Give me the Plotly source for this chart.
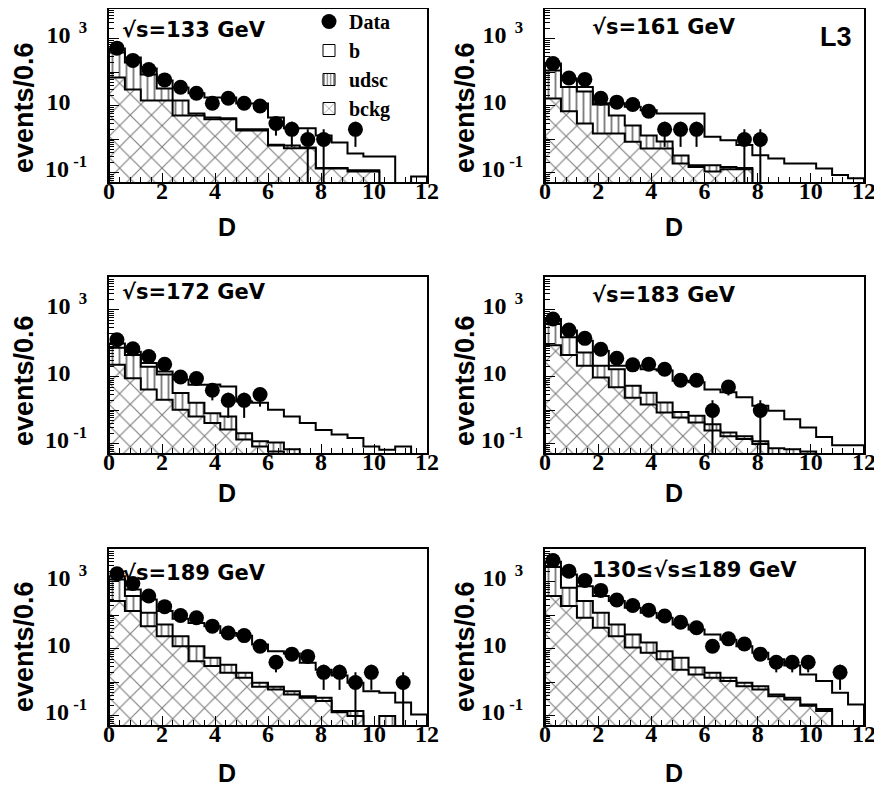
import plotly.graph_objects as go

# ---------------- data ----------------
BIN_WIDTH = 0.6
D_CENTERS = [0.3, 0.9, 1.5, 2.1, 2.7, 3.3, 3.9, 4.5, 5.1, 5.7,
             6.3, 6.9, 7.5, 8.1, 8.7, 9.3, 9.9, 10.5, 11.1, 11.7]
X_TICKS = [0, 2, 4, 6, 8, 10, 12]
Y_TICK_VALUES = [0.1, 1, 10, 100, 1000, 10000]
Y_TICK_LABELS = ["10<sup>\u00a0-1</sup>", "", "10<sup>\u00a0\u00a0\u00a0\u00a0</sup>", "",
                 "10<sup>\u00a0\u00a03</sup>", ""]
LEGEND_NAMES = ["Data", "b", "udsc", "bckg"]
PANEL_LABELS = ["\u221as=133 GeV", "\u221as=161 GeV", "\u221as=172 GeV",
                "\u221as=183 GeV", "\u221as=189 GeV", "130\u2264\u221as\u2264189 GeV"]

# sqrt(s) = 133 GeV
DATA_133 = [531, 229, 123, 60, 36, 24, 12, 17, 12, 10, 3, 2, 1, 1, None, 2, None, None, None, None]
ERR_133 = [23, 15, 11, 7.7, 6, 4.9, 3.5, 4.1, 3.5, 3.2, 1.7, 1.4, 1, 1, None, 1.4, None, None, None, None]
B_133 = [125, 81, 45, 25, 21, 18, 13.5, 13.7, 9.9, 9.9, 3.8, 1.5, 1.57, 1.18, 0.67, 0.26, 0.19, 0.31, 0, 0.078]
UDSC_133 = [324, 168, 72, 18.4, 9.4, 0.8, 0.5, 0.3, 0.14, 0.14, 0.04, 0.11, 0.03, 0.004, 0.004, 0.01, 0.01, 0, 0, 0]
BCKG_133 = [71, 31, 14.6, 14.6, 5.2, 5.2, 4.0, 4.0, 1.86, 1.86, 0.66, 0.55, 0.55, 0.136, 0.136, 0.11, 0.11, 0, 0, 0]

# sqrt(s) = 161 GeV
DATA_161 = [185, 68, 62, 17, 13, 11, 7, 2, 2, 2, None, None, 1, 1, None, None, None, None, None, None]
ERR_161 = [13.6, 8.2, 7.9, 4.1, 3.6, 3.3, 2.6, 1.4, 1.4, 1.4, None, None, 1, 1, None, None, None, None, None, None]
B_161 = [71, 29, 10, 1, 6.8, 6.9, 6.1, 5.1, 5.7, 5.8, 1.03, 0.8, 0.54, 0.34, 0.27, 0.19, 0.19, 0.136, 0.087, 0.07]
UDSC_161 = [98.4, 30.1, 24, 9.5, 3.7, 1.75, 0.78, 0.33, 0.14, 0.02, 0.06, 0.02, 0.01, 0, 0, 0, 0, 0, 0, 0]
BCKG_161 = [16.6, 6.9, 3.0, 1.5, 1.5, 0.85, 0.54, 0.54, 0.19, 0.15, 0.11, 0.13, 0.13, 0, 0, 0, 0, 0, 0, 0]

# sqrt(s) = 172 GeV
DATA_172 = [129, 69, 41, 24, 10, 9, 4, 2, 2, 3, None, None, None, None, None, None, None, None, None, None]
ERR_172 = [11.4, 8.3, 6.4, 4.9, 3.2, 3, 2, 1.4, 1.4, 1.7, None, None, None, None, None, None, None, None, None, None]
B_172 = [25, 12, 6, 2.7, 5.1, 4.2, 5.1, 4.5, 1.65, 1.58, 0.94, 0.59, 0.42, 0.26, 0.19, 0.15, 0.084, 0.067, 0.084, 0]
UDSC_172 = [52, 35.8, 15.8, 9.7, 2.25, 1.04, 0.4, 0.39, 0.074, 0.036, 0.05, 0.07, 0, 0, 0, 0, 0, 0, 0, 0]
BCKG_172 = [23, 9.2, 4.2, 2.1, 1.05, 0.66, 0.42, 0.27, 0.136, 0.084, 0.06, 0, 0, 0, 0, 0, 0, 0, 0, 0]

# sqrt(s) = 183 GeV
DATA_183 = [535, 250, 142, 67, 36, 23, 24, 17, 8, 8, 1, 5, None, 1, None, None, None, None, None, None]
ERR_183 = [23, 15.8, 11.9, 8.2, 6, 4.8, 4.9, 4.1, 2.8, 2.8, 1, 2.2, None, 1, None, None, None, None, None, None]
B_183 = [160, 93, 66, 38.5, 4.5, 16, 13.6, 13.8, 6.8, 6.2, 3.8, 3.3, 2.3, 1.26, 0.9, 0.48, 0.25, 0.16, 0.091, 0.091]
UDSC_183 = [291, 107, 32.5, 11.8, 12.1, 3.1, 1.9, 0.86, 0.28, 0.25, 0.14, 0.05, 0.03, 0.02, 0.075, 0.07, 0.06, 0, 0, 0]
BCKG_183 = [89, 45, 21.5, 9.7, 4.9, 2.4, 1.5, 0.87, 0.62, 0.44, 0.25, 0.17, 0.14, 0.1, 0, 0, 0, 0, 0, 0]

# sqrt(s) = 189 GeV
DATA_189 = [1760, 900, 380, 183, 100, 85, 48, 30, 25, 12, 4, 7, 6, 2, 2, 1, 2, None, 1, None]
ERR_189 = [42, 30, 19.5, 13.5, 10, 9.2, 6.9, 5.5, 5, 3.5, 2, 2.6, 2.4, 1.4, 1.4, 1, 1.4, None, 1, None]
B_189 = [310, 220, 180, 81, 56, 48, 42.5, 26.6, 23, 12.5, 7.8, 6.75, 3.5, 2.05, 1.46, 0.84, 0.55, 0.39, 0.25, 0.11]
UDSC_189 = [910, 245, 72, 30, 12, 7.7, 2.4, 1.45, 0.57, 0.24, 0.12, 0.11, 0.04, 0.07, 0.01, 0.04, 0, 0.1, 0, 0]
BCKG_189 = [270, 135, 48, 24, 12, 4.3, 3.1, 1.95, 1.38, 0.74, 0.62, 0.44, 0.35, 0.28, 0.13, 0.1, 0, 0, 0, 0]

# 130 <= sqrt(s) <= 189 GeV
DATA_ALL = [4380, 2100, 1110, 560, 288, 198, 144, 96, 63, 43, 12, 20, 14, 7, 4, 4, 4, None, 2, None]
ERR_ALL = [66, 46, 33, 23.7, 17, 14, 12, 9.8, 7.9, 6.6, 3.5, 4.5, 3.7, 2.6, 2, 2, 2, None, 1.4, None]
B_ALL = [1200, 1000, 480, 260, 216, 143, 104.5, 76.5, 48.5, 35.2, 25, 17.6, 11, 6.9, 4.5, 2.85, 1.51, 0.94, 0.49, 0.22]
UDSC_ALL = [2420, 480, 185, 77, 30, 16, 7.8, 3.6, 3.1, 1.07, 0.57, 0.28, 0.21, 0.15, 0.05, 0.04, 0.02, 0.02, 0, 0]
BCKG_ALL = [380, 190, 85, 43, 24, 11, 7.7, 4.9, 2.4, 1.73, 1.38, 1.1, 0.77, 0.62, 0.39, 0.31, 0.2, 0.14, 0, 0]

PANELS = [
    (DATA_133, ERR_133, B_133, UDSC_133, BCKG_133),
    (DATA_161, ERR_161, B_161, UDSC_161, BCKG_161),
    (DATA_172, ERR_172, B_172, UDSC_172, BCKG_172),
    (DATA_183, ERR_183, B_183, UDSC_183, BCKG_183),
    (DATA_189, ERR_189, B_189, UDSC_189, BCKG_189),
    (DATA_ALL, ERR_ALL, B_ALL, UDSC_ALL, BCKG_ALL),
]

# ---------------- layout geometry (page pixels; the page body has an 8px margin) ----------------
OFF = 8
W, H = 882 - OFF, 788 - OFF
COL_X = [(109, 427), (545, 864)]
ROW_Y = [(9, 182), (277, 453), (549, 725)]
Y_MIN_LOG = -1.27
DECADE_PX = 33.5
LABEL_POS = [(0.035, 0.876), (0.14, 0.898), (0.035, 0.916),
             (0.14, 0.898), (0.035, 0.864), (0.14, 0.88)]
YTITLE_X = [24, 465]
YTITLE_Y = [108, 381, 647]
DTITLE_X = [227, 674]
DTITLE_Y = [227, 493, 773]
LEGEND_LEFT = 309
LEGEND_TOP = 2

FLOOR = 1e-4
SERIF = "Liberation Serif"
SANS = "DejaVu Sans"
HATCH_V = dict(shape="|", size=7, solidity=0.27, fgcolor="black", bgcolor="white")
HATCH_X = dict(shape="x", size=15, solidity=0.15, fgcolor="black", bgcolor="white")


def px(x):
    return (x - OFF) / W


def py(y):
    return 1 - (y - OFF) / H


def step_outline(values):
    xs, ys = [0.0], [FLOOR]
    for c, v in zip(D_CENTERS, values):
        y = v if v > 0 else FLOOR
        xs += [round(c - BIN_WIDTH / 2, 4), round(c + BIN_WIDTH / 2, 4)]
        ys += [y, y]
    xs.append(12.0)
    ys.append(FLOOR)
    return xs, ys


fig = go.Figure()
minor_y = [m * 10 ** e for e in range(-2, 4) for m in range(2, 10)]

for k, (data, err, bq, udsc, bckg) in enumerate(PANELS):
    n = k + 1
    xa = "x" if n == 1 else f"x{n}"
    ya = "y" if n == 1 else f"y{n}"
    total = [a + b + c for a, b, c in zip(bq, udsc, bckg)]
    light = [b + c for b, c in zip(udsc, bckg)]

    for vals, pat in ((total, None), (light, HATCH_V), (bckg, HATCH_X)):
        xs, ys = step_outline(vals)
        kw = dict(fillpattern=pat) if pat else {}
        fig.add_trace(go.Scatter(x=xs, y=ys, mode="lines", fill="toself",
                                 fillcolor="white", line=dict(color="black", width=2),
                                 xaxis=xa, yaxis=ya, showlegend=False, hoverinfo="skip", **kw))

    fig.add_trace(go.Scatter(
        x=D_CENTERS, y=data, mode="markers", name=LEGEND_NAMES[0],
        marker=dict(color="black", size=15, symbol="circle"),
        error_y=dict(type="data", array=err, arrayminus=err, symmetric=False,
                     thickness=2, width=0, color="black"),
        xaxis=xa, yaxis=ya, showlegend=(n == 1), legendrank=1))

    col = k % 2
    row = k // 2
    x0, x1 = COL_X[col]
    y0, y1 = ROW_Y[row]
    xdom = [px(x0), px(x1)]
    ydom = [py(y1), py(y0)]
    y_top_log = Y_MIN_LOG + (y1 - y0) / DECADE_PX
    axis_common = dict(showline=True, linewidth=2, linecolor="black", mirror=True,
                       ticks="inside", tickcolor="black", tickwidth=1, showgrid=False,
                       zeroline=False, automargin=False)
    fig.layout[f"xaxis{'' if n == 1 else n}"] = dict(
        domain=xdom, range=[0, 12], anchor=ya, tickmode="array", tickvals=X_TICKS,
        ticklen=9, ticklabelstandoff=-14,
        tickfont=dict(family=SERIF, size=24, color="black", weight="bold"),
        minor=dict(ticks="inside", ticklen=5, tickcolor="black", dtick=0.4, tick0=0, showgrid=False),
        **axis_common)
    fig.layout[f"yaxis{'' if n == 1 else n}"] = dict(
        domain=ydom, type="log", range=[Y_MIN_LOG, y_top_log], anchor=xa, tickmode="array",
        tickvals=Y_TICK_VALUES, ticktext=Y_TICK_LABELS, ticklen=10,
        ticklabelstandoff=15, ticklabelshift=-4,
        tickfont=dict(family=SERIF, size=24, color="black", weight="bold"),
        minor=dict(ticks="inside", ticklen=5, tickcolor="black", tickvals=minor_y, showgrid=False),
        **axis_common)

    lx, ly = LABEL_POS[k]
    fig.add_annotation(text=PANEL_LABELS[k], xref=f"{xa} domain", yref=f"{ya} domain",
                       x=lx, y=ly, xanchor="left", yanchor="middle", showarrow=False,
                       font=dict(family=SANS, size=21, color="black", weight="bold"))
    fig.add_annotation(text="events/0.6", textangle=-90, xref="paper", yref="paper",
                       x=px(YTITLE_X[col]), y=py(YTITLE_Y[row]), xanchor="center",
                       yanchor="middle", showarrow=False,
                       font=dict(family="Liberation Sans", size=27, color="black", weight="bold"))
    fig.add_annotation(text="D", xref="paper", yref="paper",
                       x=px(DTITLE_X[col]), y=py(DTITLE_Y[row]), xanchor="center",
                       yanchor="middle", showarrow=False,
                       font=dict(family="Liberation Sans", size=25, color="black", weight="bold"))

# legend-only entries for the three histogram components
for name, pat, rank in ((LEGEND_NAMES[1], None, 2),
                        (LEGEND_NAMES[2], dict(shape="|", size=4, solidity=0.4, fgcolor="black", bgcolor="white"), 3),
                        (LEGEND_NAMES[3], dict(shape="x", size=12, solidity=0.15, fgcolor="black", bgcolor="white"), 4)):
    mk = dict(color="white", line=dict(color="black", width=1))
    if pat:
        mk["pattern"] = pat
    fig.add_trace(go.Bar(x=[None], y=[None], name=name, marker=mk, xaxis="x", yaxis="y",
                         showlegend=True, legendrank=rank))

fig.add_annotation(text="L3", xref="paper", yref="paper", x=px(836), y=py(37),
                   xanchor="center", yanchor="middle", showarrow=False,
                   font=dict(family="Liberation Sans", size=27, color="black", weight="bold"))

fig.update_layout(
    width=W, height=H, margin=dict(l=0, r=0, t=0, b=0, autoexpand=False),
    paper_bgcolor="white", plot_bgcolor="white",
    legend=dict(x=px(LEGEND_LEFT), y=py(LEGEND_TOP), xanchor="left", yanchor="top",
                bgcolor="rgba(0,0,0,0)", borderwidth=0, tracegroupgap=0,
                font=dict(family=SERIF, size=20, color="black", weight="bold")),
)

fig.write_html("out.html")
